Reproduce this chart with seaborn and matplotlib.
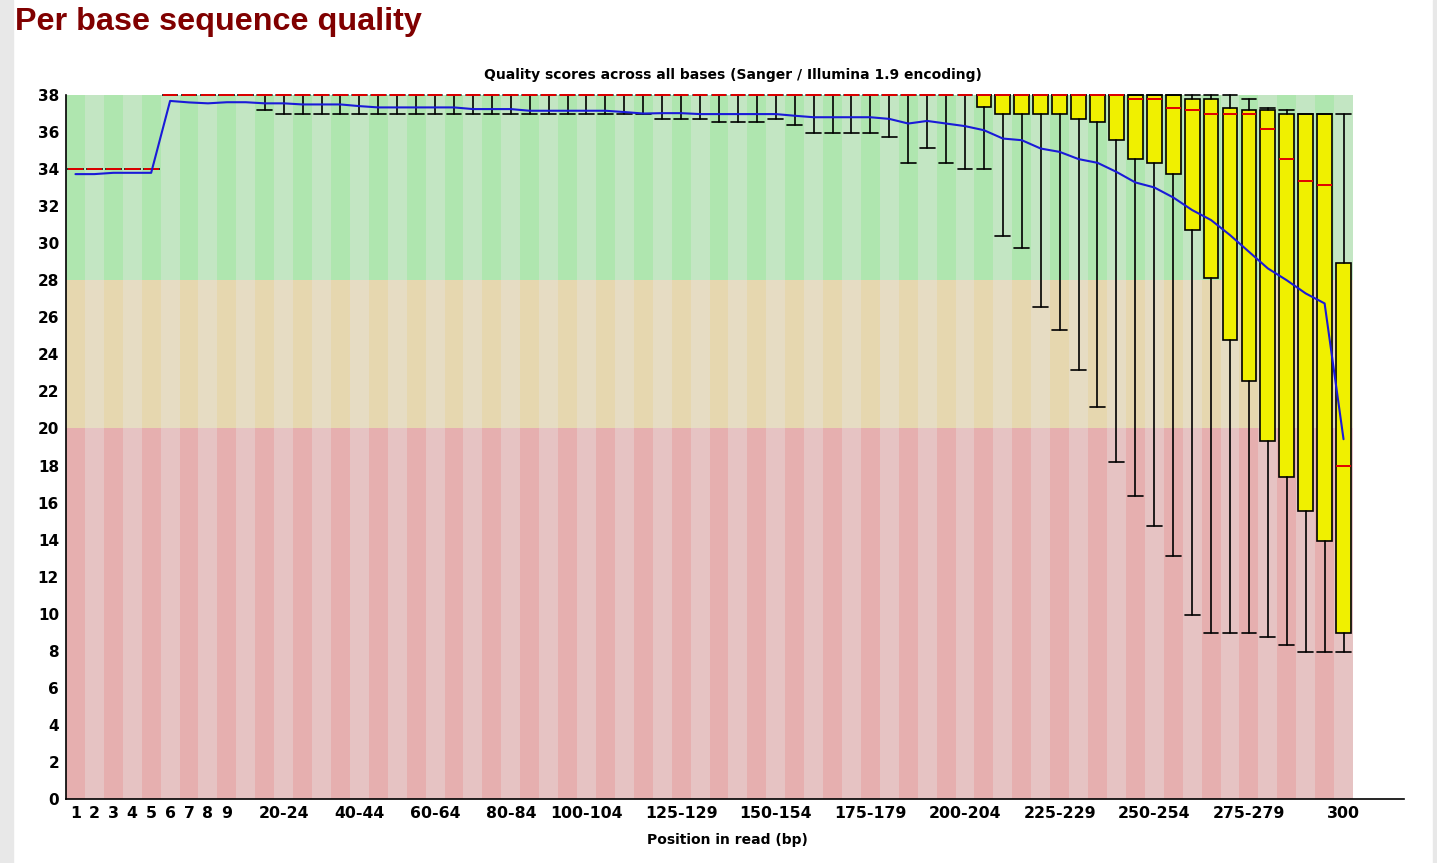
import matplotlib
matplotlib.use("Agg")
import matplotlib.pyplot as plt
from matplotlib.patches import Rectangle
import seaborn as sns

sns.set_theme(style="white")
plt.rcParams["font.family"] = ["DejaVu Sans"]
plt.rcParams["text.color"] = "black"

# ------------------------------------------------------------
# data
# ------------------------------------------------------------
POSITIONS = ([str(i) for i in range(1, 10)]
             + [f"{s}-{s + 4}" for s in range(10, 300, 5)]
             + ["300"])

SHOWN_LABELS = ["1", "2", "3", "4", "5", "6", "7", "8", "9",
                "20-24", "40-44", "60-64", "80-84", "100-104", "125-129",
                "150-154", "175-179", "200-204", "225-229", "250-254",
                "275-279", "300"]

MEAN = [33.73, 33.73, 33.80, 33.80, 33.80, 37.68, 37.60, 37.55, 37.61, 37.61,
        37.55, 37.55, 37.49, 37.49, 37.49, 37.40, 37.33, 37.33, 37.33, 37.33,
        37.33, 37.24, 37.24, 37.24, 37.15, 37.15, 37.15, 37.15, 37.15, 37.08,
        37.00, 37.02, 37.02, 36.97, 36.97, 36.97, 36.97, 36.97, 36.88, 36.80,
        36.80, 36.80, 36.80, 36.71, 36.46, 36.60, 36.46, 36.32, 36.10, 35.65,
        35.56, 35.11, 34.93, 34.54, 34.34, 33.85, 33.28, 33.01, 32.47, 31.79,
        31.25, 30.44, 29.54, 28.64, 28.00, 27.29, 26.75, 19.42]

MEDIAN = ([34.0] * 5 + [38.0] * 51
          + [37.76, 37.76, 37.31, 37.18, 36.97, 36.97, 36.97, 36.16, 34.54,
             33.37, 33.15, 17.95])

Q3 = ([34.0] * 5 + [38.0] * 54
      + [37.76, 37.76, 37.31, 37.18, 37.18, 36.97, 36.97, 36.97, 28.94])

Q1 = ([34.0] * 5 + [38.0] * 43
      + [37.33, 36.97, 36.97, 36.97, 36.97, 36.73, 36.52, 35.56, 34.54, 34.31,
         33.73, 30.74, 28.10, 24.77, 22.56, 19.34, 17.36, 15.54, 13.92, 8.96])

P90 = ([34.0] * 5 + [38.0] * 57
       + [37.76, 37.31, 37.18, 36.97, 36.97, 36.97])

P10 = ([34.0] * 5 + [38.0] * 5 + [37.18] + [36.97] * 20
       + [36.73, 36.73, 36.73, 36.52, 36.52, 36.52, 36.73, 36.37,
          35.96, 35.96, 35.96, 35.96, 35.71, 34.31, 35.12, 34.34, 33.98, 33.98,
          30.40, 29.72, 26.57, 25.33, 23.15, 21.17, 18.19, 16.35, 14.75, 13.11,
          9.91, 8.96, 8.96, 8.96, 8.76, 8.31, 7.93, 7.93, 7.93])

# quality zones: (bottom, top, dark stripe, light stripe)
ZONES = [(0, 20, "#e6afaf", "#e6c3c3"),
         (20, 28, "#e6d7af", "#e6dcc3"),
         (28, 38, "#afe6af", "#c3e6c3")]

# ------------------------------------------------------------
# figure
# ------------------------------------------------------------
W, H = 1437, 863
fig = plt.figure(figsize=(W / 100, H / 100), dpi=100)
fig.patches.append(Rectangle((0, 0), 13 / W, 1, transform=fig.transFigure,
                             color="#e8e8e8", zorder=-1))
fig.patches.append(Rectangle((1433 / W, 0), 4 / W, 1, transform=fig.transFigure,
                             color="#e8e8e8", zorder=-1))

ax = fig.add_axes([66 / W, (H - 799) / H, (1404 - 66) / W, (799 - 95) / H])
x = list(range(len(POSITIONS)))
cat_px = (1353 - 66) / len(POSITIONS)

# striped background
for lo, hi, dark, light in ZONES:
    ax.bar(x, [hi - lo] * len(x), bottom=lo, width=1.0, linewidth=0,
           color=[dark if i % 2 == 0 else light for i in x], zorder=0)

stats = [dict(med=m, q1=a, q3=b, whislo=lo, whishi=hi, fliers=[])
         for m, a, b, lo, hi in zip(MEDIAN, Q1, Q3, P10, P90)]
ax.bxp(stats, positions=x, widths=0.78, capwidths=0.78, patch_artist=True,
       showfliers=False, manage_ticks=False,
       boxprops=dict(facecolor="#f0f000", edgecolor="black", linewidth=1.2),
       medianprops=dict(color="#e00000", linewidth=1.4, zorder=4),
       whiskerprops=dict(color="black", linewidth=1.2),
       capprops=dict(color="black", linewidth=1.2))

sns.lineplot(x=x, y=MEAN, ax=ax, color="#1a1ad8", linewidth=1.5, zorder=5)

for art in ax.lines + ax.patches:
    art.set_clip_on(False)

ax.set_xlim(-0.5, -0.5 + (1404 - 66) / cat_px)
ax.set_ylim(0, 38)
ax.set_facecolor("white")

ax.set_yticks(range(0, 39, 2))
ax.set_yticklabels([str(v) for v in range(0, 39, 2)], fontsize=11, fontweight="bold")
ax.set_xticks([POSITIONS.index(s) for s in SHOWN_LABELS])
ax.set_xticklabels(SHOWN_LABELS, fontsize=11.3, fontweight="bold")
ax.tick_params(length=0, pad=5, colors="black")

for side in ["top", "right"]:
    ax.spines[side].set_visible(False)
for side in ["left", "bottom"]:
    ax.spines[side].set_color("black")
    ax.spines[side].set_linewidth(1.2)

fig.text(15 / W, 1 - 22 / H, "Per base sequence quality", fontsize=23.3,
         fontweight="bold", color="#800000", family=["Liberation Sans", "DejaVu Sans"],
         ha="left", va="center")
fig.text(733 / W, 1 - 75 / H,
         "Quality scores across all bases (Sanger / Illumina 1.9 encoding)",
         fontsize=10, fontweight="bold", ha="center", va="center")
fig.text(727 / W, 1 - 840 / H, "Position in read (bp)", fontsize=10,
         fontweight="bold", ha="center", va="center")

fig.savefig("out.png", dpi=100)
